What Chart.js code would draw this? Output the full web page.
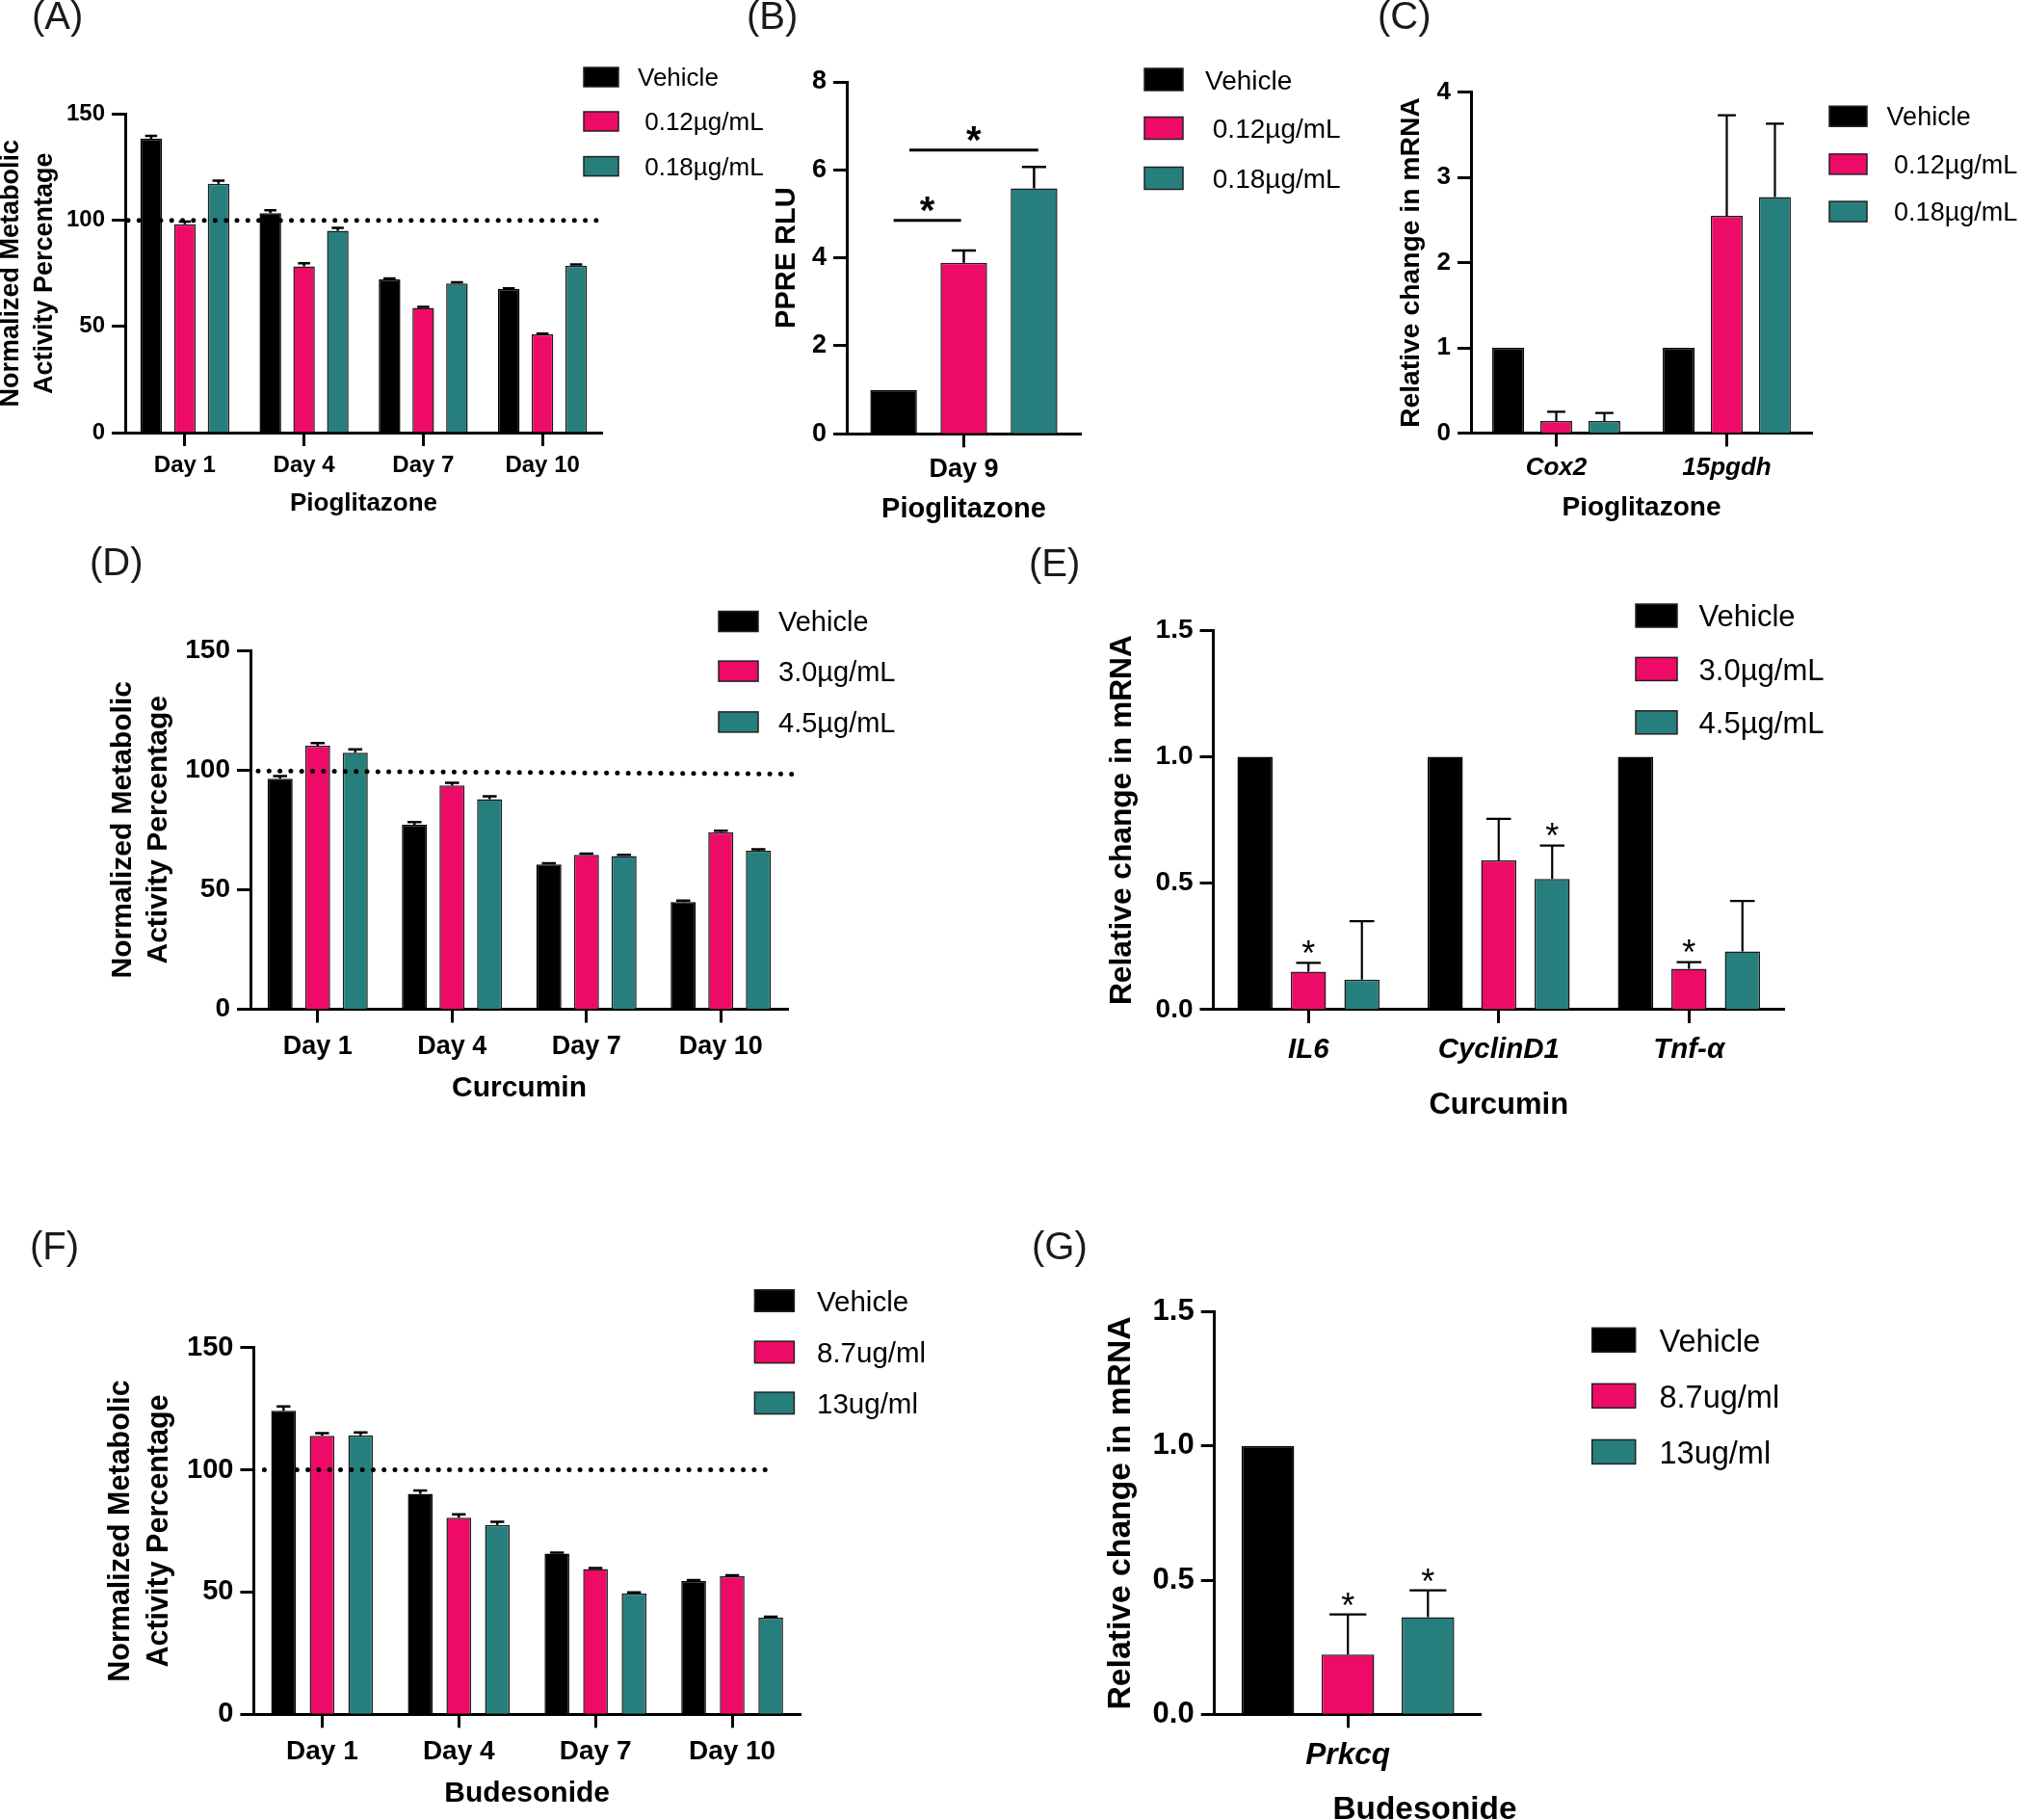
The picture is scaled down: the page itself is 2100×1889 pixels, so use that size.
<!DOCTYPE html>
<html>
<head>
<meta charset="utf-8">
<script src="https://cdn.jsdelivr.net/npm/chart.js@4.4.1/dist/chart.umd.min.js"></script>
<style>
  html, body { margin: 0; padding: 0; background: #fff; }
  #page { position: relative; width: 2100px; height: 1889px; overflow: hidden; background: #fff; }
  canvas { position: absolute; }
</style>
</head>
<body>
<div id="page"></div>
<script>
// Series colours: vehicle, low dose, high dose
const COLORS = ['#000000', '#ee0b67', '#277f7d'];

// (A) Pioglitazone - metabolic activity
const pioDays = ['Day 1', 'Day 4', 'Day 7', 'Day 10'];
const pioLegend = ['Vehicle', ' 0.12µg/mL', ' 0.18µg/mL'];
const pioActVehicle = [138.5, 103.4, 72.2, 67.6];
const pioActVehicleSd = [1.3, 1.4, 0.4, 0.4];
const pioActLow = [98.2, 78.3, 58.8, 46.3];
const pioActLowSd = [1.2, 1.5, 0.4, 0.4];
const pioActHigh = [117.3, 95.1, 70.3, 78.7];
const pioActHighSd = [1.4, 1.4, 0.5, 0.5];
const activityTicks = [0, 50, 100, 150];
const pioRef = [100, 100];

// (B) PPRE luciferase
const ppreDays = ['Day 9'];
const ppreVehicle = [1.0];
const ppreVehicleSd = [0];
const ppreLow = [3.89];
const ppreLowSd = [0.28];
const ppreHigh = [5.58];
const ppreHighSd = [0.49];
const ppreTicks = [0, 2, 4, 6, 8];
// significance brackets: [from series, to series, height]
const pprePairs = [[0, 1, 4.85], [0, 2, 6.45]];

// (C) Pioglitazone - mRNA
const pioGenes = ['Cox2', '15pgdh'];
const pioMrnaVehicle = [1, 1];
const pioMrnaVehicleSd = [0, 0];
const pioMrnaLow = [0.14, 2.55];
const pioMrnaLowSd = [0.11, 1.18];
const pioMrnaHigh = [0.14, 2.77];
const pioMrnaHighSd = [0.095, 0.86];
const pioMrnaTicks = [0, 1, 2, 3, 4];

// (D) Curcumin - metabolic activity
const curLegend = ['Vehicle', '3.0µg/mL', '4.5µg/mL'];
const curDays = ['Day 1', 'Day 4', 'Day 7', 'Day 10'];
const curActVehicle = [96.3, 77.1, 60.5, 44.8];
const curActVehicleSd = [1.2, 1.1, 0.5, 0.6];
const curActLow = [110.1, 93.5, 64.5, 74.0];
const curActLowSd = [1.1, 1.1, 0.5, 0.6];
const curActHigh = [107.2, 87.8, 64.0, 66.2];
const curActHighSd = [1.4, 1.2, 0.5, 0.6];
const curRef = [99.6, 98.3];

// (E) Curcumin - mRNA
const curGenes = ['IL6', 'CyclinD1', 'Tnf-α'];
const curMrnaVehicle = [1, 1, 1];
const curMrnaVehicleSd = [0, 0, 0];
const curMrnaLow = [0.15, 0.59, 0.162];
const curMrnaLowSd = [0.035, 0.165, 0.026];
const curMrnaHigh = [0.119, 0.517, 0.23];
const curMrnaHighSd = [0.231, 0.132, 0.2];
const curStarsLow = [true, false, true];
const curStarsHigh = [false, true, false];
const mrnaTicks = [0, 0.5, 1.0, 1.5];

// (F) Budesonide - metabolic activity
const budLegend = ['Vehicle', '8.7ug/ml', '13ug/ml'];
const budDays = ['Day 1', 'Day 4', 'Day 7', 'Day 10'];
const budActVehicle = [124.2, 90.2, 65.7, 54.5];
const budActVehicleSd = [1.7, 1.4, 0.4, 0.4];
const budActLow = [113.9, 80.4, 59.4, 56.5];
const budActLowSd = [1.1, 1.4, 0.4, 0.4];
const budActHigh = [114.1, 77.5, 49.5, 39.5];
const budActHighSd = [1.2, 1.2, 0.4, 0.4];
const budRef = [100, 100];

// (G) Budesonide - mRNA
const budGenes = ['Prkcq'];
const budMrnaVehicle = [1.0];
const budMrnaVehicleSd = [0];
const budMrnaLow = [0.223];
const budMrnaLowSd = [0.149];
const budMrnaHigh = [0.362];
const budMrnaHighSd = [0.1];
const budStarsLow = [true];
const budStarsHigh = [true];

const FONT = "'Liberation Sans', Arial, Helvetica, sans-serif";
Chart.defaults.font.family = FONT;
Chart.defaults.color = '#000';

const page = document.getElementById('page');

function series(labels, values, sds, stars) {
    return values.map((v, i) => ({
        label: labels[i],
        data: v,
        sd: sds[i],
        stars: stars ? stars[i] : null,
        backgroundColor: COLORS[i],
        borderColor: i === 0 ? '#000' : '#1c1c1c',
        borderWidth: 1.5
    }));
}

// error bars (upper only, Prism style) and significance stars above them
const errorBars = {
    id: 'errorBars',
    afterDatasetsDraw(chart, args, o) {
        const ctx = chart.ctx;
        const y = chart.scales.y;
        chart.data.datasets.forEach((ds, i) => {
            const meta = chart.getDatasetMeta(i);
            meta.data.forEach((bar, j) => {
                const sd = ds.sd ? ds.sd[j] : 0;
                const top = y.getPixelForValue(ds.data[j] + (sd || 0));
                ctx.save();
                if (sd) {
                    const half = bar.width * o.cap / 2;
                    ctx.strokeStyle = '#000';
                    ctx.lineWidth = o.width;
                    ctx.beginPath();
                    ctx.moveTo(bar.x, bar.y);
                    ctx.lineTo(bar.x, top);
                    ctx.moveTo(bar.x - half, top);
                    ctx.lineTo(bar.x + half, top);
                    ctx.stroke();
                }
                if (ds.stars && ds.stars[j]) {
                    ctx.fillStyle = '#000';
                    ctx.font = `${o.starSize}px ${FONT}`;
                    ctx.textAlign = 'center';
                    ctx.textBaseline = 'alphabetic';
                    ctx.fillText('*', bar.x, top - o.starGap + 0.58 * o.starSize);
                }
                ctx.restore();
            });
        });
    }
};

// dotted 100% reference line
const refLine = {
    id: 'refLine',
    afterDatasetsDraw(chart, args, o) {
        if (!o.values) return;
        const { ctx, chartArea: ca } = chart;
        const y = chart.scales.y;
        ctx.save();
        ctx.strokeStyle = '#000';
        ctx.lineWidth = 5;
        ctx.lineCap = 'round';
        ctx.setLineDash([0, 11.3]);
        ctx.beginPath();
        ctx.moveTo(ca.left + o.startOff, y.getPixelForValue(o.values[0]));
        ctx.lineTo(ca.right + o.endOff, y.getPixelForValue(o.values[1]));
        ctx.stroke();
        ctx.restore();
    }
};

// comparison brackets for panel B
const brackets = {
    id: 'brackets',
    afterDatasetsDraw(chart, args, o) {
        if (!o.items) return;
        const ctx = chart.ctx;
        const y = chart.scales.y;
        o.items.forEach(it => {
            const a = chart.getDatasetMeta(it.from).data[0];
            const b = chart.getDatasetMeta(it.to).data[0];
            const x1 = a.x + it.dx1 * a.width;
            const x2 = b.x + it.dx2 * b.width;
            const py = y.getPixelForValue(it.y);
            ctx.save();
            ctx.strokeStyle = '#000';
            ctx.lineWidth = 3;
            ctx.beginPath();
            ctx.moveTo(x1, py);
            ctx.lineTo(x2, py);
            ctx.stroke();
            ctx.fillStyle = '#000';
            ctx.font = `bold ${o.starSize}px ${FONT}`;
            ctx.textAlign = 'center';
            ctx.fillText('*', (x1 + x2) / 2, py - o.starGap + 0.58 * o.starSize);
            ctx.restore();
        });
    }
};

// legend to the right of each plot
const sideLegend = {
    id: 'sideLegend',
    afterDraw(chart, args, o) {
        if (!o.ys) return;
        const ctx = chart.ctx;
        ctx.save();
        chart.data.datasets.forEach((ds, i) => {
            const cy = o.ys[i];
            ctx.fillStyle = ds.backgroundColor;
            ctx.fillRect(o.x, cy - o.h / 2, o.w, o.h);
            ctx.lineWidth = 1.5;
            ctx.strokeStyle = '#222';
            ctx.strokeRect(o.x, cy - o.h / 2, o.w, o.h);
            ctx.fillStyle = '#000';
            ctx.font = `${o.size}px ${FONT}`;
            ctx.textAlign = 'left';
            ctx.textBaseline = 'alphabetic';
            ctx.fillText(ds.label, o.textX, cy + 0.36 * o.size);
        });
        ctx.restore();
    }
};

// panel letters and loose labels
const freeText = {
    id: 'freeText',
    afterDraw(chart, args, o) {
        if (!o.items) return;
        const ctx = chart.ctx;
        o.items.forEach(it => {
            ctx.save();
            ctx.fillStyle = it.color || '#000';
            ctx.font = `${it.weight || 'normal'} ${it.size}px ${FONT}`;
            ctx.textAlign = it.align || 'left';
            ctx.textBaseline = 'alphabetic';
            ctx.fillText(it.t, it.x, it.y + it.lift * it.size);
            ctx.restore();
        });
    }
};

function panel(p) {
    const box = p.box, area = p.area;
    const cv = document.createElement('canvas');
    cv.width = box.w;
    cv.height = box.h;
    cv.style.left = box.x + 'px';
    cv.style.top = box.y + 'px';
    cv.style.width = box.w + 'px';
    cv.style.height = box.h + 'px';
    page.appendChild(cv);

    const L = area.l - box.x, T = area.t - box.y, R = area.r - box.x, B = area.b - box.y;
    const yt = p.yTitle;
    const yLh = yt.x.length > 1 ? (yt.x[1] - yt.x[0]) / yt.size : 1.2;
    const xLh = 1.2;
    const xH = p.xTitle ? (p.xTitle.y - area.b) + p.xTitle.size * xLh / 2 : 90;
    const tickLen = 14;

    const texts = [{ t: p.letter.t, x: p.letter.x - box.x, y: p.letter.y - box.y, size: 40, lift: 0.258, color: '#1a1a1a' }];
    (p.extra || []).forEach(e => texts.push(Object.assign({}, e, { x: e.x - box.x, y: e.y - box.y })));

    return new Chart(cv, {
        type: 'bar',
        data: { labels: p.labels, datasets: p.datasets },
        plugins: [errorBars, refLine, brackets, sideLegend, freeText],
        options: {
            responsive: false,
            maintainAspectRatio: false,
            animation: false,
            devicePixelRatio: 1,
            events: [],
            layout: { padding: { left: 0, top: T, right: box.w - R, bottom: box.h - B - xH } },
            datasets: { bar: { categoryPercentage: p.cat, barPercentage: p.bar } },
            scales: {
                x: {
                    z: 1,
                    afterFit: s => { s.height = xH; },
                    grid: { display: true, offset: false, drawOnChartArea: false, drawTicks: true,
                            tickLength: tickLen, tickWidth: 3, tickColor: '#000' },
                    border: { display: true, color: '#000', width: 3 },
                    ticks: {
                        padding: p.xTicks.y - area.b - tickLen - 0.6 * p.xTicks.size,
                        color: '#000', maxRotation: 0, autoSkip: false,
                        font: { size: p.xTicks.size, weight: 'bold', style: p.xTicks.italic ? 'italic' : 'normal' }
                    },
                    title: p.xTitle ? {
                        display: true, text: p.xTitle.text, color: '#000', padding: 0,
                        font: { size: p.xTitle.size, weight: 'bold', lineHeight: xLh }
                    } : { display: false }
                },
                y: {
                    z: 1,
                    min: p.yTicks[0],
                    max: p.yTicks[p.yTicks.length - 1],
                    afterFit: s => { s.width = L; },
                    afterBuildTicks: s => { s.ticks = p.yTicks.map(v => ({ value: v })); },
                    grid: { display: true, drawOnChartArea: false, drawTicks: true,
                            tickLength: tickLen, tickWidth: 3, tickColor: '#000' },
                    border: { display: true, color: '#000', width: 3 },
                    ticks: {
                        padding: 7, color: '#000',
                        font: { size: p.yTickSize, weight: 'bold' },
                        callback: v => p.yFmt ? Number(v).toFixed(p.yFmt) : v
                    },
                    title: {
                        display: true, text: yt.lines, color: '#000',
                        padding: { top: yt.x[0] - box.x - yt.size * yLh / 2, bottom: 0 },
                        font: { size: yt.size, weight: 'bold', lineHeight: yLh }
                    }
                }
            },
            plugins: {
                legend: { display: false },
                tooltip: { enabled: false },
                errorBars: { width: p.errW, cap: p.cap, starSize: 36, starGap: 18 },
                refLine: p.ref ? { values: p.ref.values, startOff: p.ref.startOff, endOff: p.ref.endOff } : {},
                brackets: p.brackets || {},
                sideLegend: {
                    x: p.legend.x - box.x, w: p.legend.w, h: p.legend.h,
                    ys: p.legend.ys.map(v => v - box.y), textX: p.legend.textX - box.x, size: p.legend.size
                },
                freeText: { items: texts }
            }
        }
    });
}

const activityTitle = ['Normalized Metabolic', 'Activity Percentage'];
const mrnaTitle = ['Relative change in mRNA'];

// (A)
panel({
    box: { x: 0, y: 0, w: 800, h: 560 },
    area: { l: 130, t: 118.6, r: 625, b: 449 },
    labels: pioDays,
    datasets: series(pioLegend, [pioActVehicle, pioActLow, pioActHigh], [pioActVehicleSd, pioActLowSd, pioActHighSd]),
    cat: 0.848, bar: 0.64, errW: 2.5, cap: 0.56,
    yTicks: activityTicks, yTickSize: 24,
    yTitle: { lines: activityTitle, x: [12, 47], size: 27 },
    xTicks: { y: 483, size: 24 },
    xTitle: { text: 'Pioglitazone', y: 522.6, size: 26 },
    legend: { x: 606, w: 36, h: 20, ys: [80, 126, 172.6], textX: 662, size: 26 },
    ref: { values: pioRef, startOff: 3, endOff: -3 },
    letter: { t: '(A)', x: 33, y: 20 }
});

// (B)
panel({
    box: { x: 770, y: 0, w: 660, h: 560 },
    area: { l: 879, t: 85, r: 1122, b: 450.3 },
    labels: ppreDays,
    datasets: series(pioLegend, [ppreVehicle, ppreLow, ppreHigh], [ppreVehicleSd, ppreLowSd, ppreHighSd]),
    cat: 0.9, bar: 0.664, errW: 2.5, cap: 0.52,
    yTicks: ppreTicks, yTickSize: 27,
    yTitle: { lines: ['PPRE RLU'], x: [816.7], size: 29 },
    xTicks: { y: 487.5, size: 27 },
    xTitle: { text: 'Pioglitazone', y: 528.6, size: 29 },
    legend: { x: 1188, w: 40, h: 23, ys: [82.5, 133, 185], textX: 1251, size: 28 },
    brackets: {
        starSize: 40, starGap: 20,
        items: [
            { from: pprePairs[0][0], to: pprePairs[0][1], y: pprePairs[0][2], dx1: 0, dx2: -0.06 },
            { from: pprePairs[1][0], to: pprePairs[1][1], y: pprePairs[1][2], dx1: 0.34, dx2: 0.09 }
        ]
    },
    letter: { t: '(B)', x: 775, y: 20 }
});

// (C)
panel({
    box: { x: 1420, y: 0, w: 680, h: 560 },
    area: { l: 1527, t: 95.7, r: 1881, b: 449.5 },
    labels: pioGenes,
    datasets: series(pioLegend, [pioMrnaVehicle, pioMrnaLow, pioMrnaHigh], [pioMrnaVehicleSd, pioMrnaLowSd, pioMrnaHighSd]),
    cat: 0.847, bar: 0.66, errW: 2.2, cap: 0.57,
    yTicks: pioMrnaTicks, yTickSize: 26,
    yTitle: { lines: mrnaTitle, x: [1465], size: 28.3 },
    xTicks: { y: 485.7, size: 26, italic: true },
    xTitle: { text: 'Pioglitazone', y: 526.8, size: 28 },
    legend: { x: 1899, w: 39, h: 21, ys: [120.7, 170.4, 219.6], textX: 1958.6, size: 27 },
    letter: { t: '(C)', x: 1430, y: 20 }
});

// (D)
panel({
    box: { x: 0, y: 560, w: 1000, h: 620 },
    area: { l: 260, t: 675, r: 818, b: 1047.5 },
    labels: curDays,
    datasets: series(curLegend, [curActVehicle, curActLow, curActHigh], [curActVehicleSd, curActLowSd, curActHighSd]),
    cat: 0.839, bar: 0.667, errW: 2.5, cap: 0.56,
    yTicks: activityTicks, yTickSize: 28,
    yTitle: { lines: activityTitle, x: [128, 165], size: 30 },
    xTicks: { y: 1087, size: 27 },
    xTitle: { text: 'Curcumin', y: 1130, size: 30 },
    legend: { x: 746, w: 41, h: 21, ys: [645, 696.6, 749.4], textX: 808, size: 29 },
    ref: { values: curRef, startOff: 8, endOff: 4 },
    letter: { t: '(D)', x: 93, y: 587 }
});

// (E)
panel({
    box: { x: 1040, y: 560, w: 1060, h: 620 },
    area: { l: 1259.5, t: 654.3, r: 1852, b: 1047.9 },
    labels: curGenes,
    datasets: series(curLegend, [curMrnaVehicle, curMrnaLow, curMrnaHigh], [curMrnaVehicleSd, curMrnaLowSd, curMrnaHighSd],
                     [null, curStarsLow, curStarsHigh]),
    cat: 0.843, bar: 0.658, errW: 2.2, cap: 0.7,
    yTicks: mrnaTicks, yTickSize: 28, yFmt: 1,
    yTitle: { lines: mrnaTitle, x: [1165], size: 31.7 },
    xTicks: { y: 1090, size: 29.5, italic: true },
    xTitle: { text: 'Curcumin', y: 1147, size: 31 },
    legend: { x: 1698, w: 43, h: 24, ys: [639, 694.4, 749.8], textX: 1763.6, size: 31 },
    letter: { t: '(E)', x: 1068, y: 588 }
});

// (F)
panel({
    box: { x: 0, y: 1260, w: 1000, h: 629 },
    area: { l: 263.4, t: 1398.7, r: 831, b: 1779.3 },
    labels: budDays,
    datasets: series(budLegend, [budActVehicle, budActLow, budActHigh], [budActVehicleSd, budActLowSd, budActHighSd]),
    cat: 0.846, bar: 0.64, errW: 2.5, cap: 0.56,
    yTicks: activityTicks, yTickSize: 29,
    yTitle: { lines: activityTitle, x: [126, 166], size: 30.5 },
    xTicks: { y: 1818.7, size: 28 },
    xTitle: { text: 'Budesonide', y: 1862.2, size: 30 },
    legend: { x: 783.4, w: 41, h: 22.5, ys: [1350, 1403.4, 1456.3], textX: 848, size: 29.5 },
    ref: { values: budRef, startOff: 11, endOff: -31 },
    letter: { t: '(F)', x: 31, y: 1297 }
});

// (G)
panel({
    box: { x: 1040, y: 1260, w: 1060, h: 629 },
    area: { l: 1260.7, t: 1361.6, r: 1537.7, b: 1779.3 },
    labels: budGenes,
    datasets: series(budLegend, [budMrnaVehicle, budMrnaLow, budMrnaHigh], [budMrnaVehicleSd, budMrnaLowSd, budMrnaHighSd],
                     [null, budStarsLow, budStarsHigh]),
    cat: 0.9, bar: 0.657, errW: 2.2, cap: 0.7,
    yTicks: mrnaTicks, yTickSize: 31, yFmt: 1,
    yTitle: { lines: mrnaTitle, x: [1164], size: 33.7 },
    xTicks: { y: 1822.7, size: 31.6, italic: true },
    xTitle: null,
    legend: { x: 1652.7, w: 45, h: 25, ys: [1390.8, 1448.8, 1506.9], textX: 1722.5, size: 32.5 },
    letter: { t: '(G)', x: 1071, y: 1297 },
    extra: [{ t: 'Budesonide', x: 1479, y: 1876, size: 33.4, weight: 'bold', align: 'center', lift: 0.36 }]
});
</script>
</body>
</html>
